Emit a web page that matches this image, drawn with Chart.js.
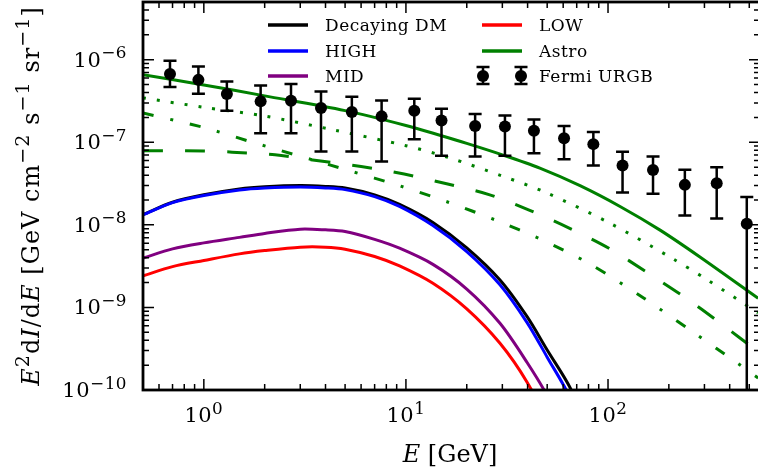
<!DOCTYPE html>
<html>
<head>
<meta charset="utf-8">
<script src="https://cdn.jsdelivr.net/npm/chart.js@4.4.0/dist/chart.umd.min.js"></script>
<style>
html, body { margin: 0; padding: 0; background: #fff; overflow: hidden; }
#c { display: block; }
</style>
</head>
<body>
<canvas id="c" width="761" height="471"></canvas>
<script>
// Fermi URGB measurement (GeV, flux, error bar ends)
const fermiE    = [0.68, 0.94, 1.30, 1.91, 2.70, 3.80, 5.40, 7.58, 11.0, 15.0, 22.0, 30.9, 43.0, 60.6, 84.6, 118, 167, 240, 345, 486];
const fermiFlux = [6.7e-7, 5.7e-7, 3.85e-7, 3.13e-7, 3.19e-7, 2.6e-7, 2.32e-7, 2.06e-7, 2.41e-7, 1.84e-7, 1.58e-7, 1.55e-7, 1.38e-7, 1.12e-7, 9.5e-8, 5.24e-8, 4.61e-8, 3.05e-8, 3.2e-8, 1.03e-8];
const fermiUp   = [9.7e-7, 8.3e-7, 5.45e-7, 4.88e-7, 5.07e-7, 4.13e-7, 3.56e-7, 3.21e-7, 3.37e-7, 2.54e-7, 2.2e-7, 2.11e-7, 1.89e-7, 1.58e-7, 1.33e-7, 7.67e-8, 6.73e-8, 4.65e-8, 5.0e-8, 2.17e-8];
const fermiDown = [4.67e-7, 3.87e-7, 2.41e-7, 1.29e-7, 1.29e-7, 7.74e-8, 7.74e-8, 5.85e-8, 1.09e-7, 6.86e-8, 6.73e-8, 6.86e-8, 7.39e-8, 6.25e-8, 5.24e-8, 2.47e-8, 2.38e-8, 1.3e-8, 1.19e-8, 1e-11];

// decaying DM spectra
const dmE     = [0.5, 0.7, 1, 1.5, 2, 3, 4, 5, 7, 9.3, 13.6, 20, 29.2, 39.7, 50, 65, 80];
const dmTotal = [1.33e-8, 1.88e-8, 2.31e-8, 2.72e-8, 2.89e-8, 2.99e-8, 2.92e-8, 2.79e-8, 2.31e-8, 1.77e-8, 1.07e-8, 5.26e-9, 2.15e-9, 7.78e-10, 3.05e-10, 1.06e-10, 3e-11];
const dmHigh  = [1.32e-8, 1.86e-8, 2.27e-8, 2.65e-8, 2.8e-8, 2.88e-8, 2.8e-8, 2.67e-8, 2.2e-8, 1.67e-8, 9.8e-9, 4.75e-9, 1.88e-9, 6.6e-10, 2.5e-10, 8e-11, 2e-11];
const dmMid   = [3.95e-9, 5.12e-9, 6.05e-9, 7.05e-9, 7.88e-9, 8.87e-9, 8.7e-9, 8.3e-9, 6.67e-9, 5.21e-9, 3.32e-9, 1.67e-9, 6.43e-10, 2.17e-10, 8.5e-11, 2e-11, 4e-12];
const dmLow   = [2.41e-9, 3.12e-9, 3.7e-9, 4.45e-9, 4.88e-9, 5.37e-9, 5.37e-9, 5.07e-9, 4.14e-9, 3.18e-9, 1.96e-9, 9.6e-10, 3.68e-10, 1.25e-10, 4e-11, 5e-12, 1e-12];

// astrophysical components
const astroE    = [0.5, 1, 2, 5, 10, 15, 20, 30, 46, 72.7, 114.7, 181, 285, 553];
const astroFlux = [6.6e-7, 4.95e-7, 3.65e-7, 2.42e-7, 1.6e-7, 1.2e-7, 9.7e-8, 7.05e-8, 4.86e-8, 2.98e-8, 1.67e-8, 8.63e-9, 4.08e-9, 1.29e-9];
const dotE      = [0.5, 1, 2, 4.45, 10, 16.2, 30, 48.8, 102, 210, 300, 553];
const dotFlux   = [3.45e-7, 2.65e-7, 2.08e-7, 1.4e-7, 9.1e-8, 6.55e-8, 3.9e-8, 2.49e-8, 1.05e-8, 3.87e-9, 2.27e-9, 8.6e-10];
const dashE     = [0.5, 1, 1.38, 2.25, 3.7, 6, 9.8, 15.9, 26, 41, 65, 101, 160, 243, 352, 553];
const dashFlux  = [7.9e-8, 7.85e-8, 7.6e-8, 7.05e-8, 5.97e-8, 5.09e-8, 4.12e-8, 3.14e-8, 2.31e-8, 1.5e-8, 9.0e-9, 5.2e-9, 2.55e-9, 1.3e-9, 6.7e-10, 2.9e-10];
const ddE       = [0.5, 1, 1.74, 5.3, 9.2, 16.2, 27.8, 47.1, 80, 150, 269, 343, 433, 553];
const ddFlux    = [2.26e-7, 1.51e-7, 1.0e-7, 4.5e-8, 3.0e-8, 1.88e-8, 1.14e-8, 6.58e-9, 3.44e-9, 1.3e-9, 4.86e-10, 3.2e-10, 2.15e-10, 1.4e-10];

// axes
const xMajor = [1, 10, 100];
const xMajorExp = ['0', '1', '2'];
const yMajor = [1e-10, 1e-9, 1e-8, 1e-7, 1e-6];
const yMajorExp = ['\u221210', '\u22129', '\u22128', '\u22127', '\u22126'];

const FONT = '"DejaVu Serif", serif';

const pts = (xs, ys) => xs.map((x, i) => ({ x: x, y: ys[i] }));

function curve(label, xs, ys, color, dash, order) {
    return {
        label: label,
        data: pts(xs, ys),
        borderColor: color,
        backgroundColor: color,
        borderWidth: 3,
        borderDash: dash || [],
        pointRadius: 0,
        tension: 0.3,
        fill: false,
        order: order
    };
}

function fontFor(style, size) {
    const sz = style === 's' ? size * 0.8 : size;
    return (style === 'i' ? 'italic ' : '') + sz.toFixed(1) + 'px ' + FONT;
}

// text with italic parts and superscripts
function drawRich(ctx, parts, x, y, size, align, spacing) {
    ctx.letterSpacing = (spacing || 0) + 'px';
    let w = 0;
    parts.forEach(([t, s]) => { ctx.font = fontFor(s, size); w += ctx.measureText(t).width; });
    let cx = align === 'right' ? x - w : (align === 'center' ? x - w / 2 : x);
    ctx.textAlign = 'left';
    ctx.textBaseline = 'alphabetic';
    parts.forEach(([t, s]) => {
        ctx.font = fontFor(s, size);
        ctx.fillText(t, cx, s === 's' ? y - size * 0.4 : y);
        cx += ctx.measureText(t).width;
    });
    ctx.letterSpacing = '0px';
}

function minorTicks(min, max) {
    const out = [];
    for (let d = Math.floor(Math.log10(min)); d <= Math.ceil(Math.log10(max)); d++) {
        for (let k = 2; k <= 9; k++) {
            const v = k * Math.pow(10, d);
            if (v >= min && v <= max) out.push(v);
        }
    }
    return out;
}

function errorBar(ctx, px, pTop, pBot, cap) {
    ctx.beginPath();
    ctx.moveTo(px, pTop); ctx.lineTo(px, pBot);
    ctx.moveTo(px - cap, pTop); ctx.lineTo(px + cap, pTop);
    ctx.moveTo(px - cap, pBot); ctx.lineTo(px + cap, pBot);
    ctx.stroke();
}

const decor = {
    id: 'decor',
    afterDatasetsDraw(chart) {
        const { ctx, chartArea: a, scales: { x, y } } = chart;
        ctx.save();
        ctx.beginPath();
        ctx.rect(a.left, a.top, a.right - a.left, a.bottom - a.top);
        ctx.clip();
        ctx.strokeStyle = '#000';
        ctx.lineWidth = 2.5;
        fermiE.forEach((e, i) => {
            errorBar(ctx, x.getPixelForValue(e), y.getPixelForValue(fermiUp[i]), y.getPixelForValue(fermiDown[i]), 6.5);
        });
        ctx.restore();
    },
    afterDraw(chart) {
        const { ctx, chartArea: a, scales: { x, y } } = chart;
        ctx.save();
        ctx.strokeStyle = '#000';
        ctx.fillStyle = '#000';

        // ticks, pointing inward on all four sides
        ctx.lineWidth = 1.5;
        ctx.beginPath();
        xMajor.forEach(v => {
            const p = x.getPixelForValue(v);
            ctx.moveTo(p, a.bottom); ctx.lineTo(p, a.bottom - 11);
            ctx.moveTo(p, a.top); ctx.lineTo(p, a.top + 11);
        });
        minorTicks(x.min, x.max).forEach(v => {
            const p = x.getPixelForValue(v);
            ctx.moveTo(p, a.bottom); ctx.lineTo(p, a.bottom - 6);
            ctx.moveTo(p, a.top); ctx.lineTo(p, a.top + 6);
        });
        yMajor.forEach(v => {
            const p = y.getPixelForValue(v);
            ctx.moveTo(a.left, p); ctx.lineTo(a.left + 11, p);
            ctx.moveTo(a.right, p); ctx.lineTo(a.right - 11, p);
        });
        minorTicks(y.min, y.max).forEach(v => {
            const p = y.getPixelForValue(v);
            ctx.moveTo(a.left, p); ctx.lineTo(a.left + 6, p);
            ctx.moveTo(a.right, p); ctx.lineTo(a.right - 6, p);
        });
        ctx.stroke();

        // frame
        ctx.lineWidth = 2.8;
        ctx.strokeRect(a.left, a.top, a.right - a.left, a.bottom - a.top);

        // tick labels
        xMajor.forEach((v, i) => {
            drawRich(ctx, [['10', 'r'], [xMajorExp[i], 's']], x.getPixelForValue(v), a.bottom + 32, 21, 'center', 0.5);
        });
        yMajor.forEach((v, i) => {
            drawRich(ctx, [['10', 'r'], [yMajorExp[i], 's']], a.left - 16, y.getPixelForValue(v) + 7, 21, 'right', 0.5);
        });

        // axis titles
        drawRich(ctx, [['E', 'i'], [' [GeV]', 'r']], (a.left + 757) / 2, 462, 24, 'center', 0);
        ctx.save();
        ctx.translate(39, (a.top + a.bottom) / 2);
        ctx.rotate(-Math.PI / 2);
        drawRich(ctx, [['E', 'i'], ['2', 's'], ['d', 'r'], ['I', 'i'], ['/d', 'r'], ['E', 'i'],
            [' [GeV cm', 'r'], ['\u22122', 's'], [' s', 'r'], ['\u22121', 's'], [' sr', 'r'], ['\u22121', 's'], [']', 'r']],
            0, 0, 24, 'center', 1);
        ctx.restore();

        // legend, two columns
        const ds = chart.data.datasets;
        const rows = [25, 51, 76];
        const cols = [268, 482];
        const entries = [[0, 0, 0], [1, 0, 1], [2, 0, 2], [3, 1, 0], [4, 1, 1]];
        ctx.lineWidth = 3.5;
        ctx.letterSpacing = '0.5px';
        entries.forEach(([idx, c, r]) => {
            const d = ds[idx];
            ctx.strokeStyle = d.borderColor;
            ctx.beginPath();
            ctx.moveTo(cols[c], rows[r]); ctx.lineTo(cols[c] + 40, rows[r]);
            ctx.stroke();
            ctx.fillStyle = '#000';
            ctx.font = '17px ' + FONT;
            ctx.textAlign = 'left';
            ctx.textBaseline = 'alphabetic';
            ctx.fillText(d.label, cols[c] + 57, rows[r] + 6);
        });
        // errorbar legend entry
        ctx.strokeStyle = '#000';
        ctx.fillStyle = '#000';
        ctx.lineWidth = 2.5;
        [cols[1] + 1, cols[1] + 39].forEach(px => {
            errorBar(ctx, px, rows[2] - 9, rows[2] + 8, 6.5);
            ctx.beginPath();
            ctx.arc(px, rows[2], 6, 0, Math.PI * 2);
            ctx.fill();
        });
        ctx.font = '17px ' + FONT;
        ctx.fillText(ds[ds.length - 1].label, cols[1] + 57, rows[2] + 6);
        ctx.restore();
    }
};

new Chart(document.getElementById('c'), {
    type: 'line',
    data: {
        datasets: [
            curve('Decaying DM', dmE, dmTotal, '#000000', null, 3),
            curve('HIGH', dmE, dmHigh, '#0000ff', null, 2),
            curve('MID', dmE, dmMid, '#800080', null, 4),
            curve('LOW', dmE, dmLow, '#ff0000', null, 5),
            curve('Astro', astroE, astroFlux, '#008000', null, 1),
            curve('', dotE, dotFlux, '#008000', [3, 11], 6),
            curve('', dashE, dashFlux, '#008000', [20, 22], 7),
            curve('', ddE, ddFlux, '#008000', [11, 17, 3, 17], 8),
            {
                label: 'Fermi URGB',
                data: pts(fermiE, fermiFlux),
                showLine: false,
                pointRadius: 6,
                pointBorderWidth: 0,
                pointBackgroundColor: '#000',
                pointBorderColor: '#000',
                order: 0
            }
        ]
    },
    options: {
        responsive: false,
        animation: false,
        devicePixelRatio: 1,
        layout: { autoPadding: false, padding: { left: 143, right: 1, top: 2, bottom: 81 } },
        plugins: { legend: { display: false }, tooltip: { enabled: false } },
        scales: {
            x: { type: 'logarithmic', min: 0.5, max: 565, display: false },
            y: { type: 'logarithmic', min: 1e-10, max: 5e-6, display: false }
        }
    },
    plugins: [decor]
});
</script>
</body>
</html>
